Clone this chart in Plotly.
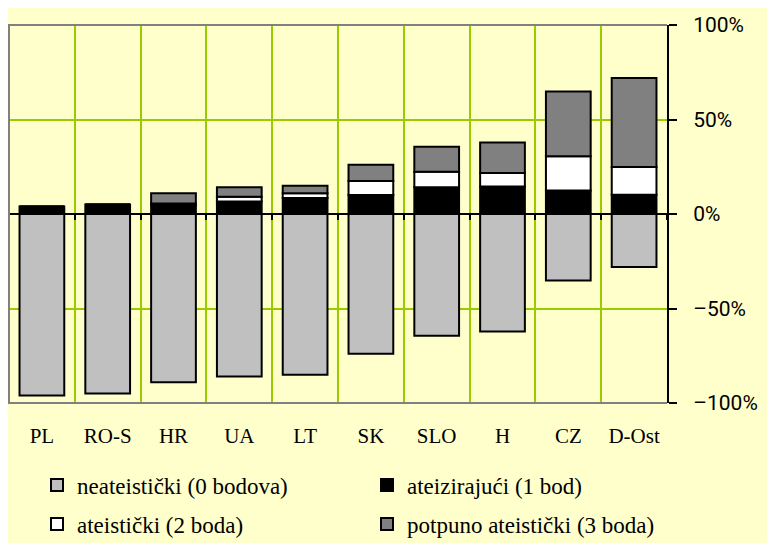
import plotly.graph_objects as go

categories = ["PL", "RO-S", "HR", "UA", "LT", "SK", "SLO", "H", "CZ", "D-Ost"]
neateisticki = [-96.0, -95.0, -89.0, -86.0, -85.0, -74.0, -64.4, -62.2, -35.2, -28.1]
ateizirajuci = [4.0, 5.0, 4.5, 6.6, 8.5, 10.0, 14.2, 14.5, 12.5, 10.2]
ateisticki = [0.0, 0.0, 1.0, 2.5, 2.5, 7.5, 8.2, 7.2, 18.0, 14.7]
potpuno = [0.0, 0.0, 5.5, 5.0, 4.0, 8.5, 13.2, 16.1, 34.3, 47.0]

series_names = ["neateistički (0 bodova)", "ateizirajući (1 bod)",
                "ateistički (2 boda)", "potpuno ateistički (3 boda)"]
series_values = [neateisticki, ateizirajuci, ateisticki, potpuno]
series_colors = ["#C0C0C0", "#000000", "#FFFFFF", "#808080"]
series_legend = ["legend", "legend2", "legend3", "legend4"]

y_tickvals = [-100, -50, 0, 50, 100]
y_ticktext = ["–100%", "–50%", "0%", "50%", "100%"]

# page body has an 8px margin; figure coordinates = page coordinates - 8
OFF = 8
W, H = 770 - OFF, 543 - OFF
PLOT_L, PLOT_R, PLOT_T, PLOT_B = 9 - OFF, 667 - OFF, 25 - OFF, 403 - OFF
ML, MR, MT, MB = PLOT_L, W - PLOT_R, PLOT_T, H - PLOT_B
PW, PH = PLOT_R - PLOT_L, PLOT_B - PLOT_T

fig = go.Figure()
for name, vals, col, lg in zip(series_names, series_values, series_colors, series_legend):
    fig.add_trace(go.Bar(
        x=categories, y=vals, name=name, legend=lg,
        marker=dict(color=col, line=dict(color="#000000", width=2)),
    ))

# helper trace for the zero-crossing category axis with tick marks
fig.add_trace(go.Scatter(x=categories, y=[0] * len(categories), xaxis="x2",
                         mode="none", showlegend=False, hoverinfo="skip"))


def px_x(page_x):
    return (page_x - OFF - ML) / PW


def px_y(page_y):
    return (PLOT_B - (page_y - OFF)) / PH


GREEN = "#99CC00"
LEG_FONT = dict(family="Liberation Serif", size=23, color="#000000")


def legend_at(px, py):
    return dict(
        orientation="h", x=px_x(px), xanchor="left", y=px_y(py), yanchor="middle",
        font=LEG_FONT, bgcolor="rgba(0,0,0,0)", borderwidth=0,
    )


fig.update_layout(
    width=W, height=H,
    margin=dict(l=ML, r=MR, t=MT, b=MB, pad=0, autoexpand=False),
    font=dict(family="Liberation Serif", color="#000000"),
    paper_bgcolor="#FFFFCC",
    plot_bgcolor="#FFFFCC",
    barmode="relative",
    bargap=0.32,
    xaxis=dict(
        type="category", categoryorder="array", categoryarray=categories,
        range=[-0.5, len(categories) - 0.5],
        tickson="boundaries", ticks="", showline=False,
        showgrid=True, gridcolor=GREEN, gridwidth=2,
        tickfont=dict(family="Liberation Serif", size=21, color="#000000"),
        ticklabelstandoff=18, zeroline=False,
    ),
    xaxis2=dict(
        type="category", categoryorder="array", categoryarray=categories,
        overlaying="x", anchor="free", position=0.5,
        range=[-0.5, len(categories) - 0.5],
        tickson="boundaries", ticks="outside", ticklen=5, tickwidth=2,
        tickcolor="#000000", showline=True, linecolor="#000000", linewidth=2,
        showticklabels=False, showgrid=False, zeroline=False,
        layer="above traces",
    ),
    yaxis=dict(
        side="right", range=[-100, 100],
        tickmode="array", tickvals=y_tickvals, ticktext=y_ticktext,
        ticks="outside", ticklen=8, tickwidth=2, tickcolor="#000000",
        showline=True, linecolor="#000000", linewidth=2,
        showgrid=True, gridcolor=GREEN, gridwidth=2,
        zeroline=True, zerolinecolor="#000000", zerolinewidth=2,
        tickfont=dict(family="Roboto", size=21, color="#000000"),
        ticklabelstandoff=12,
    ),
    legend=legend_at(37, 485),
    legend2=legend_at(367, 485),
    legend3=legend_at(37, 524),
    legend4=legend_at(367, 524),
    shapes=[
        dict(type="path", xref="paper", yref="paper", layer="above",
             path="M 1 1 L 0 1 L 0 0 L 1 0",
             line=dict(color="#808080", width=2)),
    ],
    showlegend=True,
)

fig.write_html("out.html")
